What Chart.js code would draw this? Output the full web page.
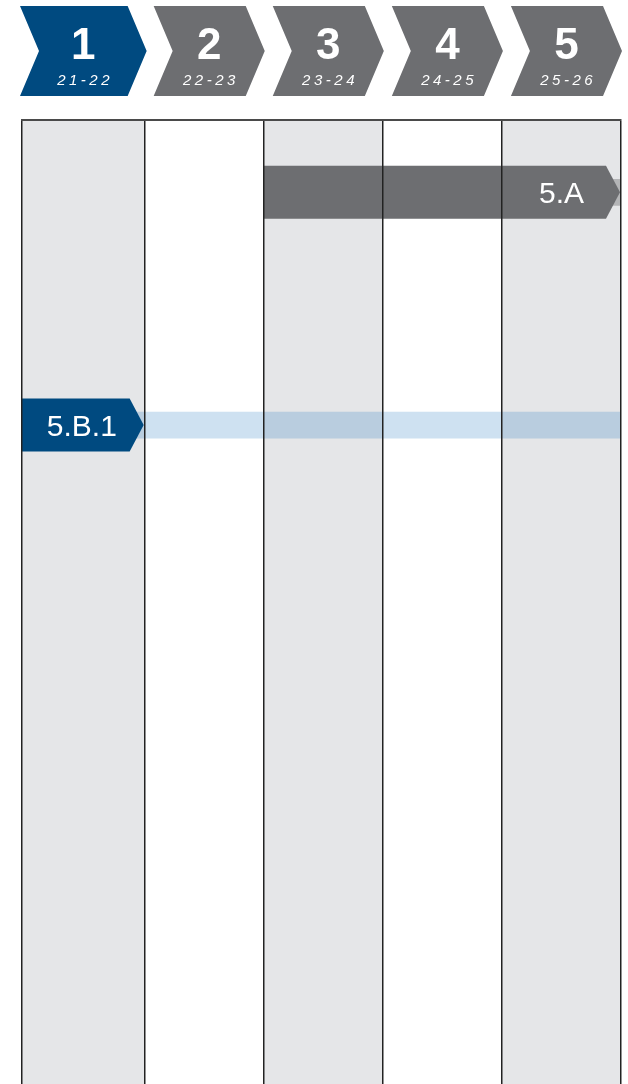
<!DOCTYPE html>
<html>
<head>
<meta charset="utf-8">
<script src="https://cdn.jsdelivr.net/npm/chart.js@4.4.0/dist/chart.umd.min.js"></script>
<style>
  html, body { margin: 0; padding: 0; background: #fff; }
  #wrap { width: 628px; height: 1084px; }
</style>
</head>
<body>
<div id="wrap"><canvas id="myChart"></canvas></div>
<script>
// header periods
const periods = ['1', '2', '3', '4', '5'];
const years = ['21-22', '22-23', '23-24', '24-25', '25-26'];
const activePeriod = 0;

// roadmap items (x in periods, row = vertical slot)
const items = ['5.A', '5.B.1'];
const itemStart = [2, 0];
const itemEnd = [5, 1];
const itemRow = [1.5, 6.33];
const bandEnd = [5, 5];

const BLUE = '#004a80';
const GREY = '#6d6e71';
const COL_GREY = '#e5e6e8';
const itemColors = [GREY, BLUE];
const bandColors = ['#b4b5b7', 'rgba(30,118,192,0.22)'];
const FONT = '"Liberation Sans", Arial, sans-serif';

function chevron(ctx, l, r, t, b, notch, tip) {
  const m = (t + b) / 2;
  ctx.beginPath();
  ctx.moveTo(l, t);
  ctx.lineTo(r - tip, t);
  ctx.lineTo(r, m);
  ctx.lineTo(r - tip, b);
  ctx.lineTo(l, b);
  if (notch) ctx.lineTo(l + notch, m);
  ctx.closePath();
  ctx.fill();
}

const colEdge = (chart, i) => i === 0 ? chart.chartArea.left : chart.scales.x.getPixelForValue(i);

// grey shading on every other period
const columnShade = {
  id: 'columnShade',
  beforeDatasetsDraw(chart) {
    const {ctx, chartArea: a} = chart;
    ctx.save();
    ctx.fillStyle = COL_GREY;
    periods.forEach((p, i) => {
      if (i % 2) return;
      const l = colEdge(chart, i);
      const r = colEdge(chart, i + 1);
      ctx.fillRect(l, a.top, r - l, a.bottom - a.top);
    });
    ctx.restore();
  }
};

// items drawn as arrows on top of their (transparent) bars
const chevronBars = {
  id: 'chevronBars',
  afterDatasetsDraw(chart) {
    const {ctx, chartArea: a} = chart;
    const meta = chart.getDatasetMeta(1);
    ctx.save();
    meta.data.forEach((el, i) => {
      const {x, y, base, height} = el.getProps(['x', 'y', 'base', 'height'], true);
      const l = itemStart[i] <= 0 ? a.left : base;
      const r = x - 1;
      const tip = 14;
      ctx.fillStyle = itemColors[i];
      chevron(ctx, l, r, y - height / 2, y + height / 2, 0, tip);
      ctx.fillStyle = '#fff';
      ctx.font = '30px ' + FONT;
      ctx.textBaseline = 'alphabetic';
      const ty = y + 11;
      if (itemEnd[i] - itemStart[i] > 1) {
        ctx.textAlign = 'right';
        ctx.fillText(items[i], r - 36, ty);
      } else {
        ctx.textAlign = 'center';
        ctx.fillText(items[i], (l + r - tip) / 2 + 6, ty);
      }
    });
    ctx.restore();
  }
};

const header = {
  id: 'header',
  afterDraw(chart) {
    const {ctx} = chart;
    ctx.save();
    periods.forEach((p, i) => {
      const active = i === activePeriod;
      const l = colEdge(chart, i) + (active ? -2 : 9);
      const r = colEdge(chart, i + 1) + (active ? 2 : 1);
      ctx.fillStyle = active ? BLUE : GREY;
      chevron(ctx, l, r, 6, 96, 19, 19);
      const cx = (l + r) / 2;
      ctx.fillStyle = '#fff';
      ctx.textAlign = 'center';
      ctx.textBaseline = 'alphabetic';
      ctx.font = 'bold 44px ' + FONT;
      ctx.fillText(p, cx, 59);
      ctx.font = 'italic 15px ' + FONT;
      ctx.letterSpacing = '3.5px';
      ctx.fillText(years[i], cx + 1.75, 85);
      ctx.letterSpacing = '0px';
    });
    ctx.restore();
  }
};

const ctxt = document.getElementById('myChart').getContext('2d');

const myChart = new Chart(ctxt, {
  type: 'bar',
  data: {
    datasets: [
      {
        label: 'band',
        data: items.map((_, i) => ({y: itemRow[i], x: [itemStart[i], bandEnd[i]]})),
        backgroundColor: bandColors,
        barThickness: 26,
        grouped: false,
        order: 2
      },
      {
        label: 'items',
        data: items.map((_, i) => ({y: itemRow[i], x: [itemStart[i], itemEnd[i]]})),
        backgroundColor: 'rgba(0,0,0,0)',
        barThickness: 53,
        grouped: false,
        order: 1
      }
    ]
  },
  options: {
    indexAxis: 'y',
    responsive: true,
    maintainAspectRatio: false,
    animation: false,
    layout: { padding: { top: 120, left: 22, right: 7, bottom: 0 } },
    plugins: { legend: { display: false }, tooltip: { enabled: false } },
    scales: {
      x: {
        type: 'linear',
        position: 'top',
        min: -0.03,
        max: 5,
        afterBuildTicks: s => { s.ticks = [-0.03, 1, 2, 3, 4, 5].map(v => ({value: v})); },
        ticks: { display: false },
        grid: { color: '#222', lineWidth: 1.5, drawTicks: false, z: 1 },
        border: { display: true, color: '#4a4a4a', width: 2, z: 1 }
      },
      y: { type: 'linear', min: 0, max: 20, reverse: true, offset: false, display: false }
    }
  },
  plugins: [columnShade, chevronBars, header]
});
</script>
</body>
</html>
